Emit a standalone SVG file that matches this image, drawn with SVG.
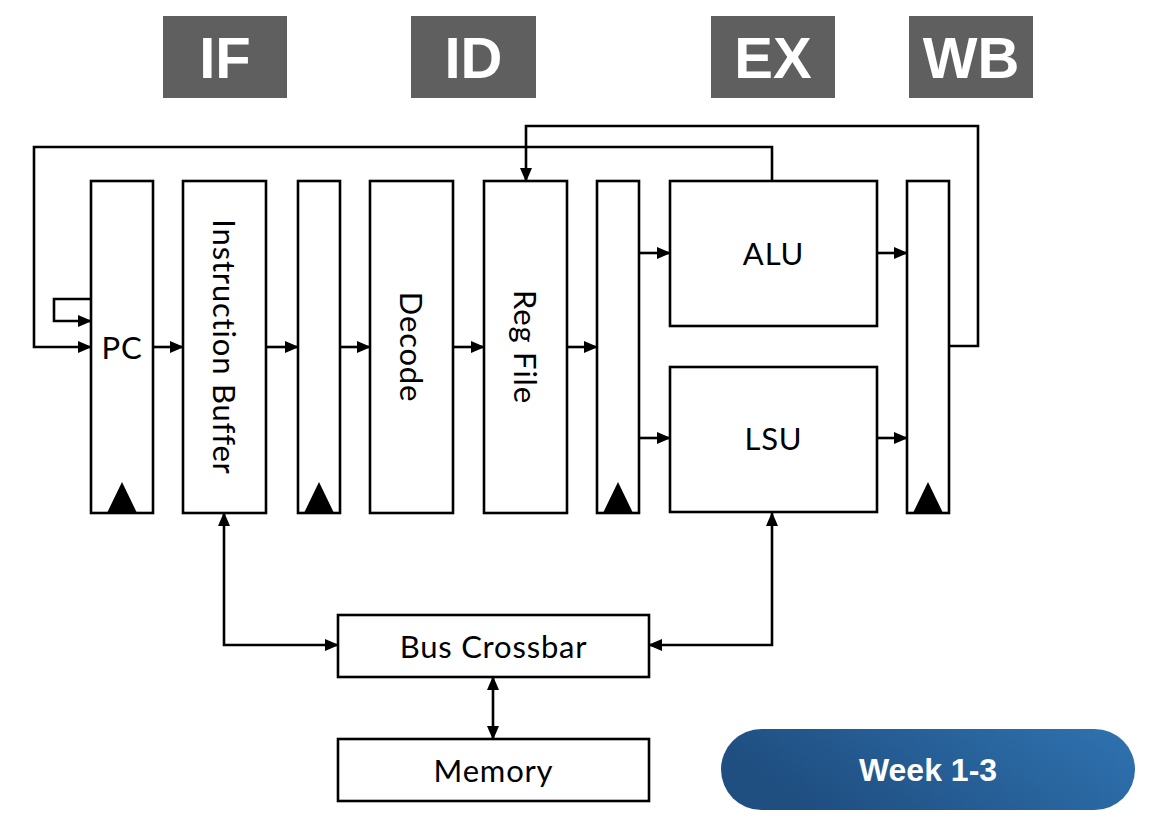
<svg xmlns="http://www.w3.org/2000/svg" width="1160" height="840" viewBox="0 0 1160 840">
<defs>
<linearGradient id="pill" x1="0" y1="0.3" x2="1" y2="0">
<stop offset="0" stop-color="#1f4e80"/>
<stop offset="1" stop-color="#2f73b1"/>
</linearGradient>
<marker id="ah" markerWidth="14" markerHeight="12" refX="13" refY="6" orient="auto-start-reverse" markerUnits="userSpaceOnUse">
<path d="M0,0 L14,6 L0,12 Z" fill="#000"/>
</marker>
</defs>
<style>
.box{fill:#fff;stroke:#000;stroke-width:2.6}
.clk{fill:#000}
.stage rect{fill:#5f5f5f}
.stage text{fill:#fff;font-family:"Liberation Sans",Arial,sans-serif;font-weight:700;font-size:58px;text-anchor:middle}
.lbl{font-family:Lato,"Noto Sans",sans-serif;font-size:31px;letter-spacing:0.8px;fill:#000;text-anchor:middle;dominant-baseline:central}
.wire{fill:none;stroke:#000;stroke-width:2.6}
.wa{marker-end:url(#ah)}
.wb{marker-start:url(#ah);marker-end:url(#ah)}
</style>
<rect width="1160" height="840" fill="#fff"/>

<g id="stage-IF" class="stage"><rect x="163" y="16" width="124" height="82"/><text x="225" y="78">IF</text></g>
<g id="stage-ID" class="stage"><rect x="411" y="16" width="125" height="82"/><text x="473.5" y="78">ID</text></g>
<g id="stage-EX" class="stage"><rect x="711" y="16" width="124" height="82"/><text x="773" y="78">EX</text></g>
<g id="stage-WB" class="stage"><rect x="909" y="16" width="124" height="82"/><text x="971" y="78">WB</text></g>

<g id="pc"><rect class="box" x="91" y="181" width="62" height="332"/><polygon class="clk" points="107,513 137,513 122,482"/><text class="lbl" x="122" y="347">PC</text></g>
<g id="ibuf"><rect class="box" x="183" y="181" width="83" height="332"/><text class="lbl" transform="translate(224.5,347) rotate(90)">Instruction Buffer</text></g>
<g id="latch-ifid"><rect class="box" x="298" y="181" width="42" height="332"/><polygon class="clk" points="304,513 334,513 319,482"/></g>
<g id="decode"><rect class="box" x="370" y="181" width="83" height="332"/><text class="lbl" transform="translate(411.5,347) rotate(90)">Decode</text></g>
<g id="regfile"><rect class="box" x="484" y="181" width="83" height="332"/><text class="lbl" transform="translate(525.5,347) rotate(90)">Reg File</text></g>
<g id="latch-idex"><rect class="box" x="597" y="181" width="42" height="332"/><polygon class="clk" points="603,513 633,513 618,482"/></g>
<g id="alu"><rect class="box" x="670" y="181" width="207" height="145"/><text class="lbl" x="773.5" y="253">ALU</text></g>
<g id="lsu"><rect class="box" x="670" y="367" width="207" height="145"/><text class="lbl" x="773.5" y="438">LSU</text></g>
<g id="latch-exwb"><rect class="box" x="907" y="181" width="42" height="332"/><polygon class="clk" points="913,513 943,513 928,482"/></g>
<g id="crossbar"><rect class="box" x="338" y="615" width="311" height="62"/><text class="lbl" x="493.5" y="646">Bus Crossbar</text></g>
<g id="memory"><rect class="box" x="338" y="739" width="311" height="62"/><text class="lbl" x="493.5" y="770">Memory</text></g>

<g id="connectors">
<path class="wire wa" d="M772,181 V147 H34 V347 H91"/>
<path class="wire wa" d="M91,299 H54 V321 H91"/>
<path class="wire wa" d="M153,347 H183"/>
<path class="wire wa" d="M266,347 H298"/>
<path class="wire wa" d="M340,347 H370"/>
<path class="wire wa" d="M453,347 H484"/>
<path class="wire wa" d="M567,347 H597"/>
<path class="wire wa" d="M639,253 H670"/>
<path class="wire wa" d="M639,438 H670"/>
<path class="wire wa" d="M877,253 H907"/>
<path class="wire wa" d="M877,438 H907"/>
<path class="wire wa" d="M949,346 H978 V126 H526 V181"/>
<path class="wire wb" d="M224,513 V645 H338"/>
<path class="wire wb" d="M772,513 V645 H649"/>
<path class="wire wb" d="M493,677 V739"/>
</g>

<g id="week-badge"><rect x="721" y="729" width="414" height="81" rx="40.5" fill="url(#pill)"/><text x="928" y="781" fill="#fff" font-family="Liberation Sans, Arial, sans-serif" font-weight="700" font-size="32" text-anchor="middle">Week 1-3</text></g>
</svg>
